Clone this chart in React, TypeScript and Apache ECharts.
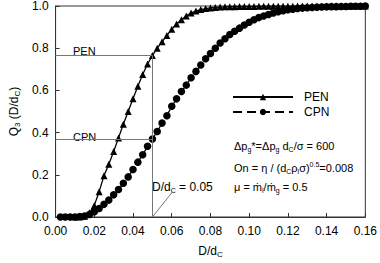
import React, { useEffect, useRef } from "react";
import * as echarts from "echarts";

const penX = [0.01, 0.0125, 0.015, 0.0175, 0.02, 0.0225, 0.025, 0.0275, 0.03, 0.0325, 0.035, 0.0375, 0.04, 0.0425, 0.045, 0.0475, 0.05, 0.0525, 0.055, 0.0575, 0.06, 0.0625, 0.065, 0.0675, 0.07, 0.0725, 0.075, 0.0775, 0.08, 0.0825, 0.085, 0.0875, 0.09, 0.0925, 0.095, 0.0975, 0.1, 0.1025, 0.105, 0.1075, 0.11, 0.1125, 0.115, 0.1175, 0.12, 0.1225, 0.125, 0.1275, 0.13, 0.1325, 0.135, 0.1375, 0.14, 0.1425, 0.145, 0.1475, 0.15, 0.1525, 0.155, 0.1575, 0.16];
const penY = [0, 0, 0.003, 0.02, 0.055, 0.12, 0.195, 0.25, 0.31, 0.375, 0.44, 0.5, 0.56, 0.62, 0.675, 0.725, 0.765, 0.8, 0.83, 0.86, 0.89, 0.915, 0.935, 0.953, 0.967, 0.976, 0.983, 0.988, 0.991, 0.993, 0.995, 0.996, 0.997, 0.997, 0.998, 0.998, 0.998, 0.998, 0.999, 0.999, 0.999, 0.999, 0.999, 0.999, 0.999, 0.999, 1, 1, 1, 1, 1, 1, 1, 1, 1, 1, 1, 1, 1, 1, 1];
const cpnX = [0.0025, 0.005, 0.0075, 0.01, 0.0125, 0.015, 0.0175, 0.02, 0.0225, 0.025, 0.0275, 0.03, 0.0325, 0.035, 0.0375, 0.04, 0.0425, 0.045, 0.0475, 0.05, 0.0525, 0.055, 0.0575, 0.06, 0.0625, 0.065, 0.0675, 0.07, 0.0725, 0.075, 0.0775, 0.08, 0.0825, 0.085, 0.0875, 0.09, 0.0925, 0.095, 0.0975, 0.1, 0.1025, 0.105, 0.1075, 0.11, 0.1125, 0.115, 0.1175, 0.12, 0.1225, 0.125, 0.1275, 0.13, 0.1325, 0.135, 0.1375, 0.14, 0.1425, 0.145, 0.1475, 0.15, 0.1525, 0.155, 0.1575, 0.16];
const cpnY = [0, 0, 0, 0, 0.002, 0.005, 0.012, 0.025, 0.04, 0.06, 0.08, 0.105, 0.13, 0.16, 0.19, 0.225, 0.26, 0.295, 0.335, 0.37, 0.405, 0.445, 0.48, 0.525, 0.56, 0.595, 0.625, 0.66, 0.69, 0.72, 0.75, 0.775, 0.8, 0.825, 0.845, 0.865, 0.88, 0.895, 0.91, 0.923, 0.935, 0.945, 0.953, 0.96, 0.967, 0.973, 0.978, 0.982, 0.985, 0.988, 0.99, 0.992, 0.993, 0.994, 0.995, 0.996, 0.997, 0.997, 0.998, 0.998, 0.999, 0.999, 0.999, 1];

const xTicks = ["0.00", "0.02", "0.04", "0.06", "0.08", "0.10", "0.12", "0.14", "0.16"];
const yTicks = ["0.0", "0.2", "0.4", "0.6", "0.8", "1.0"];
const refX = 0.05;
const penRef = 0.765;
const cpnRef = 0.367;

const FONT = "Liberation Sans, Arial, sans-serif";

export default function App() {
  const ref = useRef<HTMLDivElement>(null);
  useEffect(() => {
    if (!ref.current) return;
    document.body.style.margin = "0";
    const chart = echarts.init(ref.current, undefined, { renderer: "svg" });
    const rich = {
      n: { fontSize: 11, fontFamily: FONT, color: "#000", lineHeight: 14 },
      s: { fontSize: 7, fontFamily: FONT, color: "#000", lineHeight: 14, verticalAlign: "bottom" as const, padding: [5, 0, 0, 0] },
      u: { fontSize: 7, fontFamily: FONT, color: "#000", lineHeight: 14, verticalAlign: "top" as const, padding: [0, 0, 4, 0] },
    };
    chart.setOption({
      animation: false,
      textStyle: { fontFamily: FONT },
      grid: { left: 42, top: 6, right: 13, bottom: 40, show: true, borderColor: "#333", borderWidth: 1 },
      legend: {
        orient: "vertical",
        left: 227,
        top: 86,
        itemWidth: 60,
        itemHeight: 8,
        itemGap: 3,
        textStyle: { fontSize: 12, color: "#000", fontFamily: FONT, padding: [0, 0, 0, 6] },
        data: ["PEN", "CPN"],
      },
      xAxis: {
        type: "value",
        min: 0,
        max: 0.16,
        interval: 0.02,
        name: "{n|D/d}{s|C}",
        nameLocation: "middle",
        nameGap: 27,
        nameTextStyle: { rich: { n: { ...rich.n, fontSize: 12 }, s: { ...rich.s, fontSize: 8 } } },
        axisLine: { lineStyle: { color: "#333" } },
        axisTick: { inside: true, length: 4, lineStyle: { color: "#333" } },
        axisLabel: { fontSize: 12, color: "#000", margin: 8, formatter: (v: number) => xTicks[Math.round(v / 0.02)] },
        splitLine: { show: false },
      },
      yAxis: {
        type: "value",
        min: 0,
        max: 1,
        interval: 0.2,
        name: "{n|Q}{s|3}{n| (D/d}{s|C}{n|)}",
        nameLocation: "middle",
        nameRotate: 90,
        nameGap: 28,
        nameTextStyle: { rich: { n: { ...rich.n, fontSize: 12 }, s: { ...rich.s, fontSize: 8 } } },
        axisLine: { lineStyle: { color: "#333" } },
        axisTick: { inside: true, length: 4, lineStyle: { color: "#333" } },
        axisLabel: { fontSize: 12, color: "#000", margin: 7, formatter: (v: number) => yTicks[Math.round(v / 0.2)] },
        splitLine: { show: false },
      },
      series: [
        {
          name: "PEN",
          type: "line",
          data: penX.map((x, i) => [x, penY[i]]),
          symbol: "triangle",
          symbolSize: 7,
          showAllSymbol: true,
          itemStyle: { color: "#000" },
          lineStyle: { color: "#000", width: 1.3 },
          z: 3,
          markLine: {
            silent: true,
            symbol: "none",
            label: { show: false },
            lineStyle: { color: "#777", width: 1, type: "solid" },
            data: [
              [{ coord: [0, penRef] }, { coord: [refX, penRef] }],
              [{ coord: [0, cpnRef] }, { coord: [refX, cpnRef] }],
              [{ coord: [refX, 0] }, { coord: [refX, penRef] }],
              [{ coord: [refX, 0] }, { coord: [0.0605, 0.12] }],
            ],
          },
        },
        {
          name: "CPN",
          type: "line",
          data: cpnX.map((x, i) => [x, cpnY[i]]),
          symbol: "circle",
          symbolSize: 7.5,
          showAllSymbol: true,
          itemStyle: { color: "#000" },
          lineStyle: { color: "#000", width: 1.3, type: [9, 5] },
          z: 2,
        },
      ],
      graphic: [
        { type: "text", left: 73, top: 45, style: { text: "PEN", fontSize: 11, fontFamily: FONT, fill: "#000" } },
        { type: "text", left: 73, top: 131, style: { text: "CPN", fontSize: 11, fontFamily: FONT, fill: "#000" } },
        { type: "text", left: 152, top: 181, style: { text: "{n|D/d}{s|C}{n| = 0.05}", rich: { n: { ...rich.n, fontSize: 12 }, s: rich.s } } },
        { type: "text", left: 234, top: 140, style: { text: "{n|Δp}{s|g}{n|*=Δp}{s|g}{n| d}{s|C}{n|/σ = 600}", rich } },
        { type: "text", left: 234, top: 161, style: { text: "{n|On = η / (d}{s|C}{n|ρ}{s|l}{n|σ)}{u|0.5}{n|=0.008}", rich } },
        { type: "text", left: 234, top: 181, style: { text: "{n|μ = ṁ}{s|l}{n|/ṁ}{s|g}{n| = 0.5}", rich } },
      ],
    });
    return () => chart.dispose();
  }, []);
  return <div ref={ref} style={{ width: 380, height: 263 }} />;
}
